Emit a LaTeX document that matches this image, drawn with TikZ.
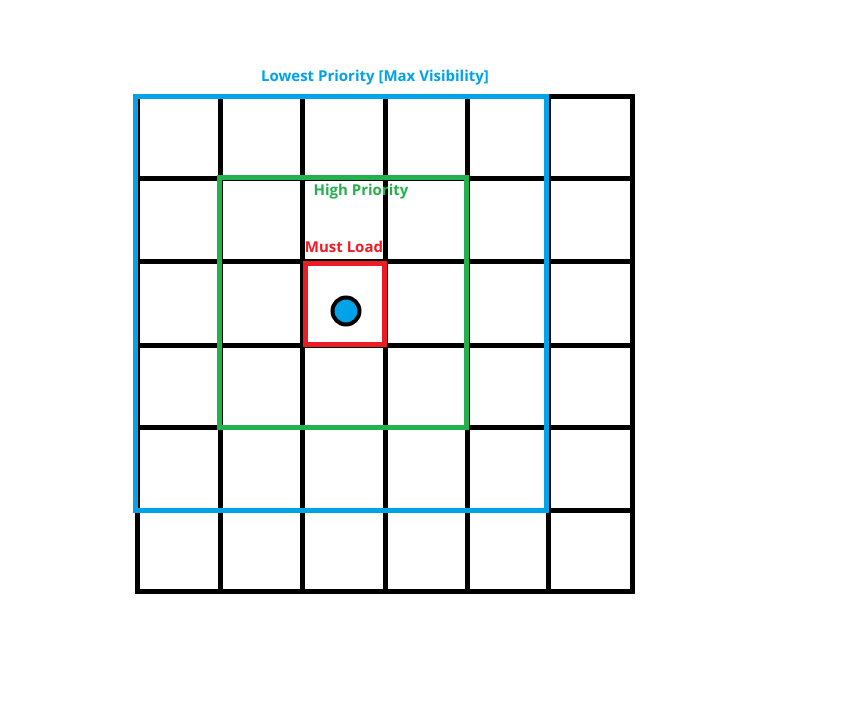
\documentclass[tikz,border=0pt]{standalone}
\usepackage{fontspec}
\setmainfont{Open Sans}
\definecolor{pblue}{HTML}{00A2E8}
\definecolor{pgreen}{HTML}{22B14C}
\definecolor{pred}{HTML}{ED1C24}
\begin{document}
\begin{tikzpicture}[x=1pt,y=-1pt,
  gridline/.style={line width=5pt,black,line cap=rect},
  zone/.style={line width=5pt},
  lbl/.style={font=\bfseries\fontsize{15}{17}\selectfont,inner sep=0pt}]
\useasboundingbox[fill=white] (0,0) rectangle (848,709);
% grid
\foreach \x in {137,220,302,385,467,548,632}
  \draw[gridline] (\x,96) -- (\x,591);
\foreach \y in {96,178,261,345,427,510,591}
  \draw[gridline] (137,\y) -- (632,\y);
% zones
\draw[zone,pgreen] (219,177) rectangle (466,427);
\draw[zone,pred] (305,263) rectangle (384,344);
\draw[zone,pblue] (135,96) rectangle (546,510);
% player
\node[circle,draw=black,line width=4pt,fill=pblue,minimum size=27pt,inner sep=0pt] (player) at (346,311) {};
% labels
\node[lbl,pblue] (lowest) at (375,78) {Lowest Priority [Max Visibility]};
\node[lbl,pgreen] (high) at (361,192) {High Priority};
\node[lbl,pred] (must) at (344,247) {Must Load};
\end{tikzpicture}
\end{document}
